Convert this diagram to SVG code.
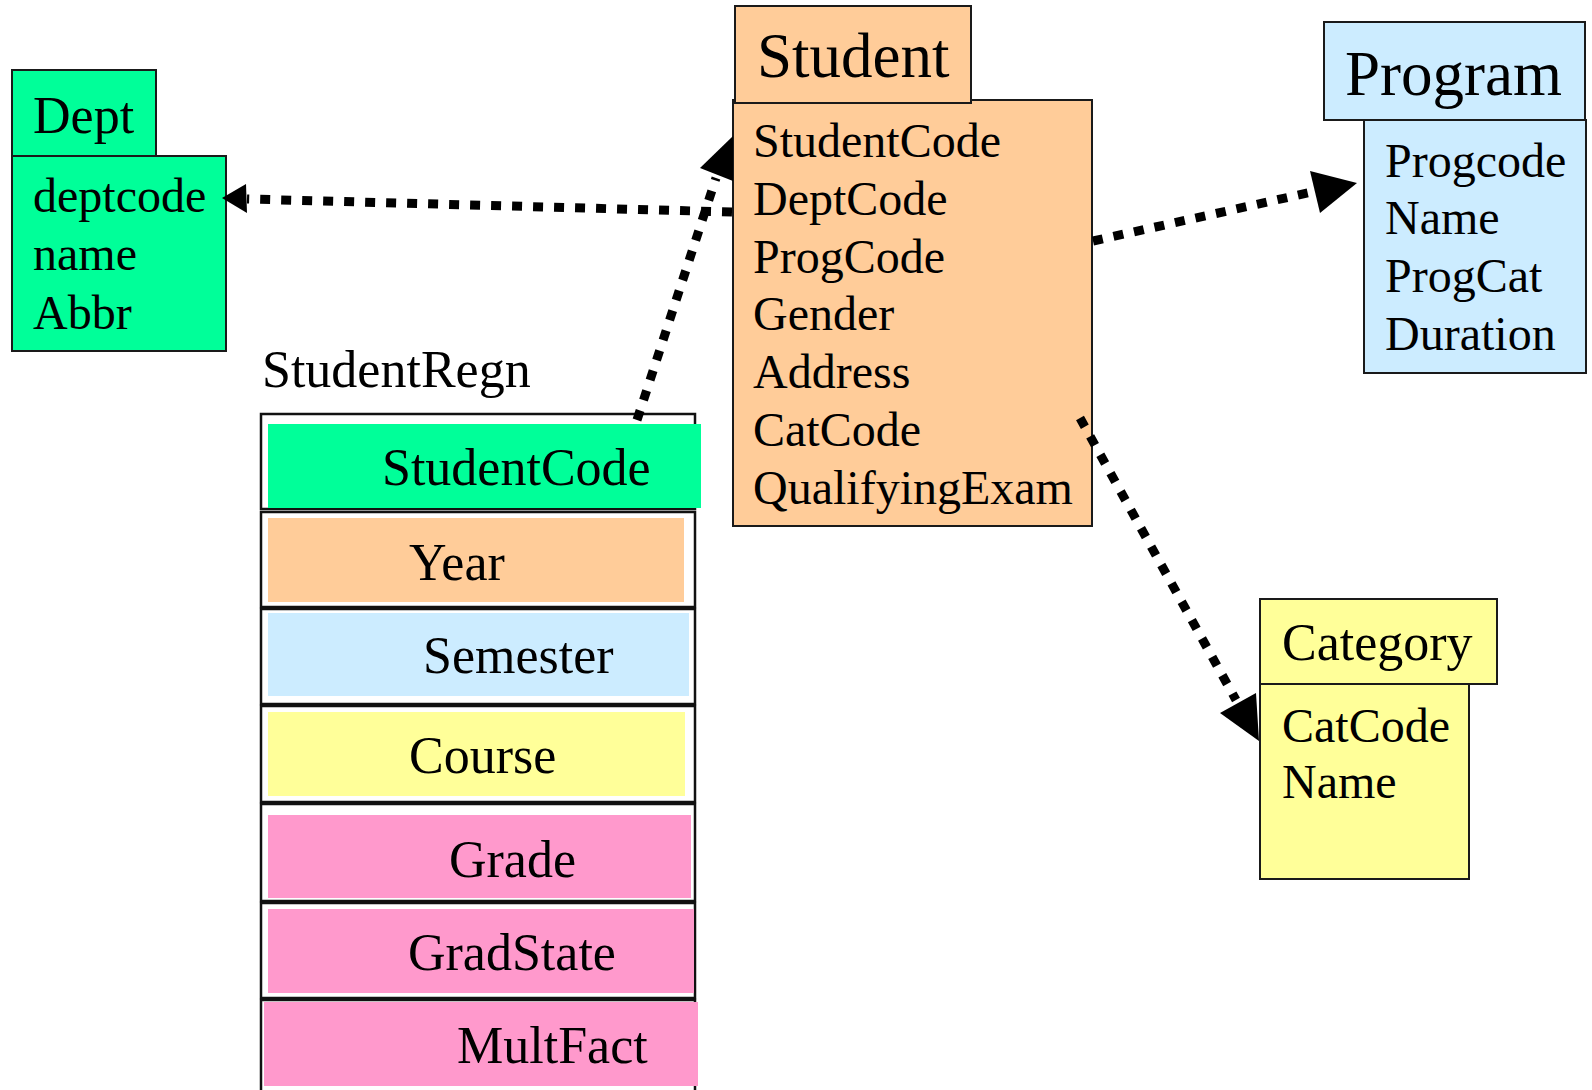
<svg xmlns="http://www.w3.org/2000/svg" width="1592" height="1090" viewBox="0 0 1592 1090">
<style>
.box{stroke:#1a1a1a;stroke-width:2}
.green{fill:#00FF99}
.orange{fill:#FFCC99}
.blue{fill:#CCECFF}
.yellow{fill:#FFFF99}
.pink{fill:#FF99CC}
.row{fill:#fff;stroke:#111;stroke-width:2.5}
.t{font-family:"Liberation Serif","Times New Roman",serif;fill:#000}
.title{font-size:63px}
.title2{font-size:52px}
.attr{font-size:48px}
.cell{font-size:52px}
.conn{fill:none;stroke:#000;stroke-width:9;stroke-dasharray:10 11}
.head{fill:#000}
</style>
<rect width="1592" height="1090" fill="#fff"/>
<g id="dept">
<rect class="box green" x="12" y="156" width="214" height="195"/>
<rect class="box green" x="12" y="70" width="144" height="86"/>
<text class="t title2" x="33" y="133">Dept</text>
<text class="t attr" x="33" y="212">deptcode</text>
<text class="t attr" x="33" y="270">name</text>
<text class="t attr" x="33" y="329">Abbr</text>
</g>
<g id="student">
<rect class="box orange" x="733" y="100" width="359" height="426"/>
<rect class="box orange" x="735" y="6" width="236" height="97"/>
<text class="t title" x="757" y="77">Student</text>
<text class="t attr" x="753" y="157">StudentCode</text>
<text class="t attr" x="753" y="215">DeptCode</text>
<text class="t attr" x="753" y="273">ProgCode</text>
<text class="t attr" x="753" y="330">Gender</text>
<text class="t attr" x="753" y="388">Address</text>
<text class="t attr" x="753" y="446">CatCode</text>
<text class="t attr" x="753" y="504">QualifyingExam</text>
</g>
<g id="program">
<rect class="box blue" x="1364" y="120" width="222" height="253"/>
<rect class="box blue" x="1324" y="22" width="261" height="98"/>
<text class="t title" x="1345" y="95">Program</text>
<text class="t attr" x="1385" y="177">Progcode</text>
<text class="t attr" x="1385" y="234">Name</text>
<text class="t attr" x="1385" y="292">ProgCat</text>
<text class="t attr" x="1385" y="350">Duration</text>
</g>
<g id="category">
<rect class="box yellow" x="1260" y="684" width="209" height="195"/>
<rect class="box yellow" x="1260" y="599" width="237" height="85"/>
<text class="t title2" x="1282" y="660">Category</text>
<text class="t attr" x="1282" y="742">CatCode</text>
<text class="t attr" x="1282" y="798">Name</text>
</g>
<g id="studentregn">
<text class="t cell" x="262" y="387">StudentRegn</text>
<rect class="row" x="261" y="414" width="434" height="95"/>
<rect class="green" x="268" y="424" width="433" height="84"/>
<text class="t cell" x="382" y="485">StudentCode</text>
<rect class="row" x="261" y="512" width="434" height="95"/>
<rect class="orange" x="268" y="518" width="416" height="84"/>
<text class="t cell" x="409" y="580">Year</text>
<rect class="row" x="261" y="609" width="434" height="95"/>
<rect class="blue" x="268" y="613" width="421" height="83"/>
<text class="t cell" x="423" y="673">Semester</text>
<rect class="row" x="261" y="706" width="434" height="96"/>
<rect class="yellow" x="268" y="712" width="417" height="84"/>
<text class="t cell" x="409" y="773">Course</text>
<rect class="row" x="261" y="804" width="434" height="97"/>
<rect class="pink" x="268" y="815" width="423" height="83"/>
<text class="t cell" x="449" y="877">Grade</text>
<rect class="row" x="261" y="903" width="434" height="95"/>
<rect class="pink" x="268" y="909" width="426" height="84"/>
<text class="t cell" x="408" y="970">GradState</text>
<rect class="row" x="261" y="1000" width="434" height="100"/>
<rect class="pink" x="264" y="1002" width="434" height="84"/>
<text class="t cell" x="457" y="1063">MultFact</text>
</g>
<g id="connectors">
<line class="conn" x1="732" y1="212" x2="247" y2="199"/>
<polygon class="head" points="222,198 246,184 247,213"/>
<line class="conn" x1="637" y1="420" x2="716" y2="178"/>
<polygon class="head" points="733,136 700,168 733,181"/>
<line class="conn" x1="1093" y1="241" x2="1312" y2="192"/>
<polygon class="head" points="1357,183 1310,171 1320,213"/>
<line class="conn" x1="1080" y1="418" x2="1236" y2="700"/>
<polygon class="head" points="1259,741 1220,713 1256,693"/>
</g>
</svg>
